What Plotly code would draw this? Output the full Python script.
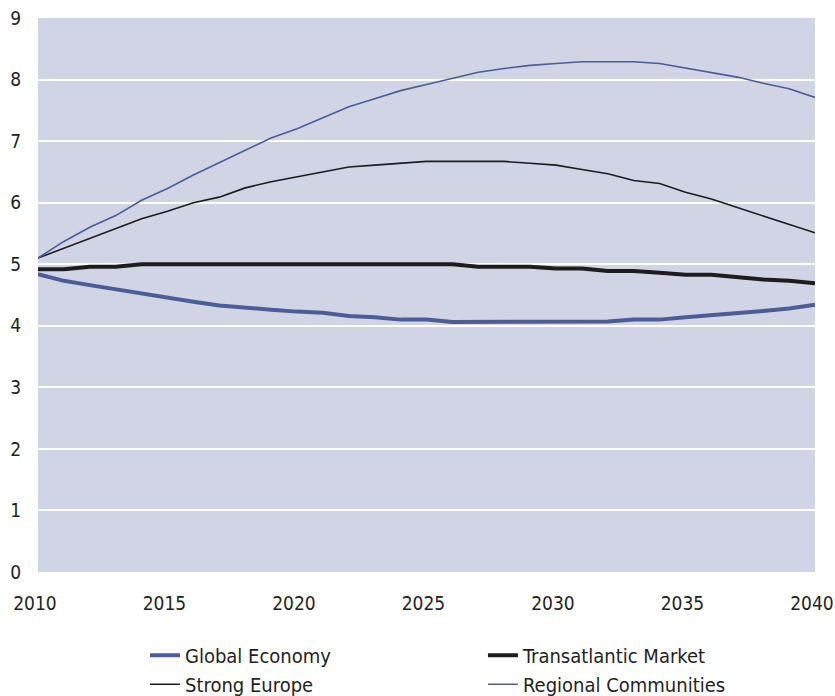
import plotly.graph_objects as go

years = list(range(2010, 2041))

global_economy = [4.84, 4.73, 4.66, 4.59, 4.52, 4.45, 4.39, 4.33, 4.29, 4.26, 4.23,
                  4.21, 4.16, 4.14, 4.10, 4.10, 4.06, 4.06, 4.06, 4.06, 4.06,
                  4.07, 4.07, 4.10, 4.10, 4.14, 4.17, 4.20, 4.24, 4.28, 4.34]
transatlantic = [4.92, 4.92, 4.96, 4.96, 5.0, 5.0, 5.0, 5.0, 5.0, 5.0, 5.0,
                 5.0, 5.0, 5.0, 5.0, 5.0, 5.0, 4.96, 4.96, 4.96, 4.93,
                 4.93, 4.89, 4.89, 4.86, 4.83, 4.83, 4.79, 4.75, 4.73, 4.69]
strong_europe = [5.10, 5.26, 5.41, 5.57, 5.74, 5.86, 6.00, 6.09, 6.24, 6.34, 6.42,
                 6.50, 6.58, 6.61, 6.64, 6.67, 6.67, 6.67, 6.67, 6.64, 6.61,
                 6.54, 6.47, 6.36, 6.31, 6.17, 6.06, 5.92, 5.78, 5.64, 5.51]
regional = [5.10, 5.37, 5.60, 5.79, 6.04, 6.23, 6.45, 6.65, 6.84, 7.05, 7.20,
            7.38, 7.56, 7.69, 7.82, 7.92, 8.02, 8.12, 8.18, 8.23, 8.26,
            8.29, 8.29, 8.29, 8.26, 8.19, 8.12, 8.04, 7.94, 7.85, 7.71]

x_ticks = [2010, 2015, 2020, 2025, 2030, 2035, 2040]
y_ticks = list(range(0, 10))

BLUE = "#4c5c99"
BLACK = "#1e1c1c"
TEXT = "#231f20"
FONT = "DejaVu Sans Condensed, DejaVu Sans, sans-serif"

fig = go.Figure()
fig.add_trace(go.Scatter(x=years, y=global_economy, name="Global Economy", mode="lines",
                         line=dict(color=BLUE, width=4)))
fig.add_trace(go.Scatter(x=years, y=transatlantic, name="Transatlantic Market", mode="lines",
                         line=dict(color=BLACK, width=4)))
fig.add_trace(go.Scatter(x=years, y=strong_europe, name="Strong Europe", mode="lines",
                         line=dict(color=BLACK, width=1.6)))
fig.add_trace(go.Scatter(x=years, y=regional, name="Regional Communities", mode="lines",
                         line=dict(color=BLUE, width=1.6)))

fig.update_layout(
    width=835, height=696,
    margin=dict(l=38, r=20, t=18, b=124, autoexpand=False),
    paper_bgcolor="white",
    plot_bgcolor="#d0d4e5",
    font=dict(family=FONT, size=19, color=TEXT),
    showlegend=True,
    legend=dict(orientation="h", xref="container", yref="container",
                x=0.1736, xanchor="left", y=0.0865, yanchor="top",
                entrywidth=293, entrywidthmode="pixels", traceorder="normal",
                font=dict(family=FONT, size=20, color=TEXT),
                bgcolor="rgba(0,0,0,0)"),
    xaxis=dict(range=[2010, 2040], tickvals=x_ticks, ticktext=[str(t) for t in x_ticks],
               showgrid=False, zeroline=False, showline=False, ticks="",
               ticklabelstandoff=18, ticklabelshift=-3,
               automargin=False, ticklabeloverflow="allow"),
    yaxis=dict(range=[0, 9], tickvals=y_ticks, showgrid=True, gridcolor="white", gridwidth=2,
               zeroline=False, showline=False, ticks="", ticklabelstandoff=16,
               automargin=False, ticklabeloverflow="allow"),
)

fig.write_html("out.html",
               config={"displayModeBar": False},
               post_script="document.body.style.margin='0';document.body.style.overflow='hidden';")
